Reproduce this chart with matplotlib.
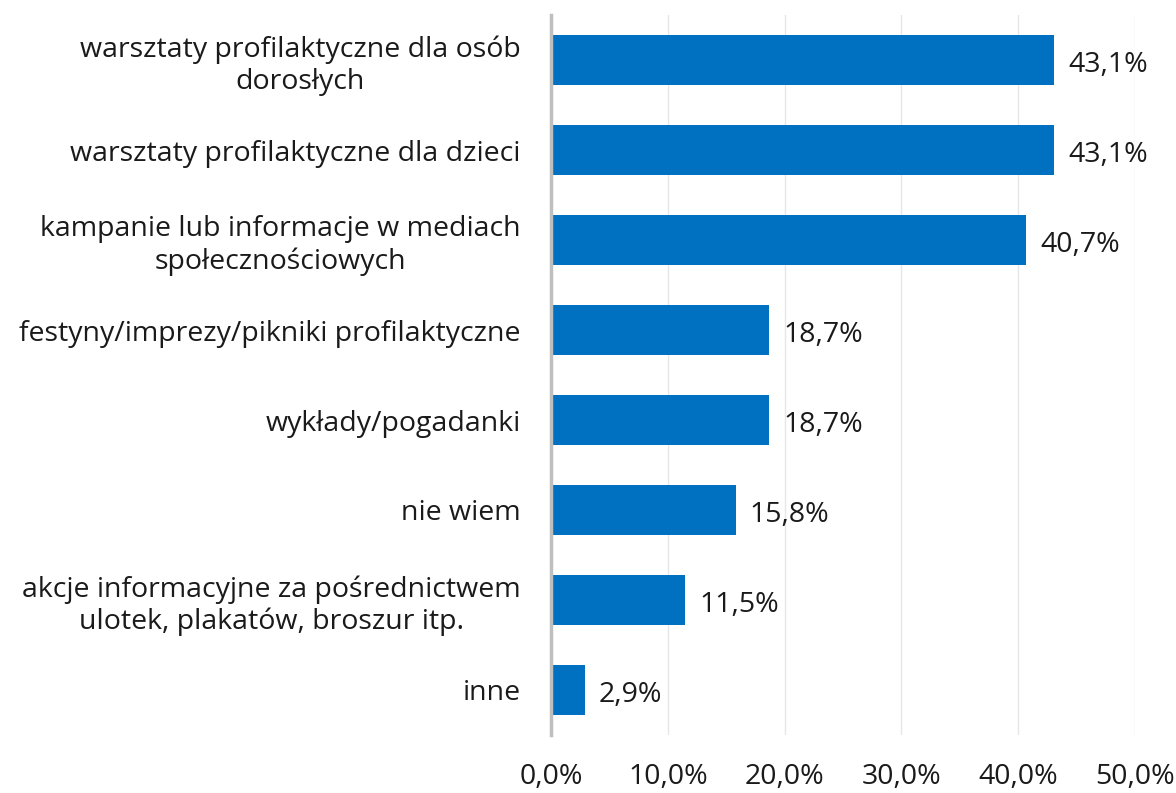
import numpy as np
import matplotlib.pyplot as plt

categories = [
    "warsztaty profilaktyczne dla osób\ndorosłych",
    "warsztaty profilaktyczne dla dzieci",
    "kampanie lub informacje w mediach\nspołecznościowych",
    "festyny/imprezy/pikniki profilaktyczne",
    "wykłady/pogadanki",
    "nie wiem",
    "akcje informacyjne za pośrednictwem\nulotek, plakatów, broszur itp.",
    "inne",
]
values = [43.1, 43.1, 40.7, 18.7, 18.7, 15.8, 11.5, 2.9]
xticks = [0, 10, 20, 30, 40, 50]

plt.rcParams['font.family'] = ['Open Sans', 'DejaVu Sans']
fs = 20.5
tc = '#1a1a1a'

fig = plt.figure(figsize=(11.76, 7.93), dpi=100)
ax = fig.add_axes([551/1176, 1 - 735/793, (1135 - 551)/1176, (735 - 15)/793])

y = np.arange(len(categories))
ax.barh(y, values, height=0.55, color='#0070C0', zorder=3)
for yi, v in zip(y, values):
    ax.text(v + 1.2, yi + 0.05, f"{v:.1f}%".replace('.', ','), va='center', ha='left',
            fontsize=fs, color=tc)

ax.set_ylim(len(categories) - 0.5, -0.5)
ax.set_xlim(0, 50)
ax.set_yticks(y)
ax.set_yticklabels(categories, fontsize=fs, color=tc, linespacing=1.2)
ax.set_xticks(xticks)
ax.set_xticklabels([f"{t:.1f}%".replace('.', ',') for t in xticks], fontsize=fs, color=tc)
ax.tick_params(axis='both', length=0)
ax.tick_params(axis='x', pad=20)
ax.tick_params(axis='y', pad=22)
for lab in ax.get_yticklabels():
    lab.set_horizontalalignment('right')
    lab.set_multialignment('center')

ax.grid(axis='x', color='#E6E6E6', linewidth=1, zorder=0)
for s in ['top', 'right', 'bottom']:
    ax.spines[s].set_visible(False)
ax.spines['left'].set_color('#BFBFBF')
ax.spines['left'].set_linewidth(2.5)
ax.spines['left'].set_zorder(4)

fig.savefig('out.png', dpi=100)
